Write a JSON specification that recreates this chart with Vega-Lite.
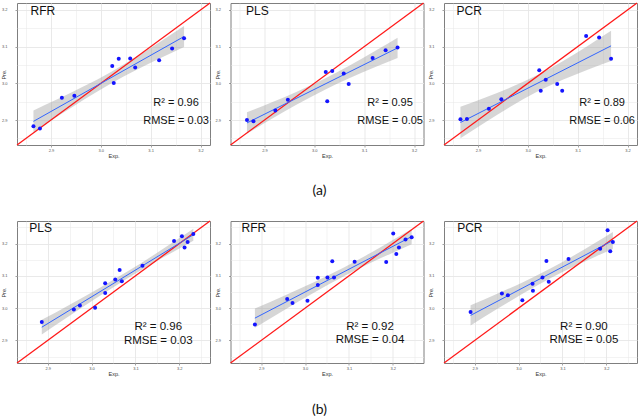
{
"$schema": "https://vega.github.io/schema/vega-lite/v6.json",
"background": "white",
"padding": {"left": 0, "top": 1, "right": 0, "bottom": 0},
"datasets": {"d": [
{"panel":"a1","kind":"pt","x":2.865,"y":2.883},{"panel":"a1","kind":"pt","x":2.878,"y":2.877},{"panel":"a1","kind":"pt","x":2.922,"y":2.961},{"panel":"a1","kind":"pt","x":2.947,"y":2.966},{"panel":"a1","kind":"pt","x":3.023,"y":3.047},{"panel":"a1","kind":"pt","x":3.026,"y":3.001},{"panel":"a1","kind":"pt","x":3.036,"y":3.067},{"panel":"a1","kind":"pt","x":3.059,"y":3.068},{"panel":"a1","kind":"pt","x":3.069,"y":3.043},{"panel":"a1","kind":"pt","x":3.117,"y":3.063},{"panel":"a1","kind":"pt","x":3.143,"y":3.095},{"panel":"a1","kind":"pt","x":3.167,"y":3.123},
{"panel":"a2","kind":"pt","x":2.865,"y":2.900},{"panel":"a2","kind":"pt","x":2.878,"y":2.897},{"panel":"a2","kind":"pt","x":2.922,"y":2.926},{"panel":"a2","kind":"pt","x":2.947,"y":2.955},{"panel":"a2","kind":"pt","x":3.023,"y":3.031},{"panel":"a2","kind":"pt","x":3.026,"y":2.951},{"panel":"a2","kind":"pt","x":3.036,"y":3.034},{"panel":"a2","kind":"pt","x":3.059,"y":3.027},{"panel":"a2","kind":"pt","x":3.069,"y":2.998},{"panel":"a2","kind":"pt","x":3.117,"y":3.069},{"panel":"a2","kind":"pt","x":3.143,"y":3.090},{"panel":"a2","kind":"pt","x":3.167,"y":3.098},
{"panel":"a3","kind":"pt","x":2.865,"y":2.902},{"panel":"a3","kind":"pt","x":2.878,"y":2.903},{"panel":"a3","kind":"pt","x":2.922,"y":2.931},{"panel":"a3","kind":"pt","x":2.947,"y":2.957},{"panel":"a3","kind":"pt","x":3.023,"y":3.036},{"panel":"a3","kind":"pt","x":3.026,"y":2.980},{"panel":"a3","kind":"pt","x":3.036,"y":3.010},{"panel":"a3","kind":"pt","x":3.059,"y":2.998},{"panel":"a3","kind":"pt","x":3.069,"y":2.980},{"panel":"a3","kind":"pt","x":3.117,"y":3.129},{"panel":"a3","kind":"pt","x":3.143,"y":3.125},{"panel":"a3","kind":"pt","x":3.167,"y":3.067},
{"panel":"b1","kind":"pt","x":2.8865,"y":2.957},{"panel":"b1","kind":"pt","x":2.9596,"y":2.996},{"panel":"b1","kind":"pt","x":2.9734,"y":3.008},{"panel":"b1","kind":"pt","x":3.008,"y":3.001},{"panel":"b1","kind":"pt","x":3.031,"y":3.077},{"panel":"b1","kind":"pt","x":3.031,"y":3.047},{"panel":"b1","kind":"pt","x":3.054,"y":3.089},{"panel":"b1","kind":"pt","x":3.064,"y":3.118},{"panel":"b1","kind":"pt","x":3.069,"y":3.083},{"panel":"b1","kind":"pt","x":3.116,"y":3.131},{"panel":"b1","kind":"pt","x":3.188,"y":3.208},{"panel":"b1","kind":"pt","x":3.206,"y":3.223},{"panel":"b1","kind":"pt","x":3.212,"y":3.188},{"panel":"b1","kind":"pt","x":3.219,"y":3.205},{"panel":"b1","kind":"pt","x":3.232,"y":3.230},
{"panel":"b2","kind":"pt","x":2.8856,"y":2.949},{"panel":"b2","kind":"pt","x":2.9592,"y":3.028},{"panel":"b2","kind":"pt","x":2.9714,"y":3.016},{"panel":"b2","kind":"pt","x":3.0055,"y":3.023},{"panel":"b2","kind":"pt","x":3.029,"y":3.094},{"panel":"b2","kind":"pt","x":3.029,"y":3.072},{"panel":"b2","kind":"pt","x":3.051,"y":3.095},{"panel":"b2","kind":"pt","x":3.062,"y":3.145},{"panel":"b2","kind":"pt","x":3.066,"y":3.095},{"panel":"b2","kind":"pt","x":3.113,"y":3.144},{"panel":"b2","kind":"pt","x":3.185,"y":3.143},{"panel":"b2","kind":"pt","x":3.201,"y":3.231},{"panel":"b2","kind":"pt","x":3.208,"y":3.168},{"panel":"b2","kind":"pt","x":3.214,"y":3.188},{"panel":"b2","kind":"pt","x":3.229,"y":3.213},{"panel":"b2","kind":"pt","x":3.243,"y":3.220},
{"panel":"b3","kind":"pt","x":2.8906,"y":2.988},{"panel":"b3","kind":"pt","x":2.962,"y":3.045},{"panel":"b3","kind":"pt","x":2.9756,"y":3.040},{"panel":"b3","kind":"pt","x":3.0086,"y":3.0245},{"panel":"b3","kind":"pt","x":3.0319,"y":3.0754},{"panel":"b3","kind":"pt","x":3.0327,"y":3.0536},{"panel":"b3","kind":"pt","x":3.0545,"y":3.0951},{"panel":"b3","kind":"pt","x":3.0635,"y":3.146},{"panel":"b3","kind":"pt","x":3.0688,"y":3.0816},{"panel":"b3","kind":"pt","x":3.1139,"y":3.152},{"panel":"b3","kind":"pt","x":3.186,"y":3.184},{"panel":"b3","kind":"pt","x":3.203,"y":3.2415},{"panel":"b3","kind":"pt","x":3.209,"y":3.176},{"panel":"b3","kind":"pt","x":3.215,"y":3.205},
{"panel":"a1","kind":"band","x":2.865,"y":2.8666,"y2":2.9263},{"panel":"a1","kind":"band","x":2.915,"y":2.9114,"y2":2.958},{"panel":"a1","kind":"band","x":2.965,"y":2.9549,"y2":2.9911},{"panel":"a1","kind":"band","x":3.0214,"y":3.0006,"y2":3.0318},{"panel":"a1","kind":"band","x":3.07,"y":3.0359,"y2":3.0709},{"panel":"a1","kind":"band","x":3.12,"y":3.0693,"y2":3.1141},{"panel":"a1","kind":"band","x":3.167,"y":3.0993,"y2":3.1561},
{"panel":"a2","kind":"band","x":2.865,"y":2.8631,"y2":2.9211},{"panel":"a2","kind":"band","x":2.915,"y":2.9033,"y2":2.9485},{"panel":"a2","kind":"band","x":2.965,"y":2.9422,"y2":2.9774},{"panel":"a2","kind":"band","x":3.0214,"y":2.9829,"y2":3.0131},{"panel":"a2","kind":"band","x":3.07,"y":3.0139,"y2":3.0479},{"panel":"a2","kind":"band","x":3.12,"y":3.0431,"y2":3.0865},{"panel":"a2","kind":"band","x":3.167,"y":3.069,"y2":3.1242},
{"panel":"a3","kind":"band","x":2.865,"y":2.8503,"y2":2.9365},{"panel":"a3","kind":"band","x":2.915,"y":2.8942,"y2":2.9616},{"panel":"a3","kind":"band","x":2.965,"y":2.9364,"y2":2.9886},{"panel":"a3","kind":"band","x":3.0214,"y":2.979,"y2":3.024},{"panel":"a3","kind":"band","x":3.07,"y":3.0099,"y2":3.0603},{"panel":"a3","kind":"band","x":3.12,"y":3.0374,"y2":3.102},{"panel":"a3","kind":"band","x":3.167,"y":3.0612,"y2":3.1432},
{"panel":"b1","kind":"band","x":2.8865,"y":2.9181,"y2":2.9637},{"panel":"b1","kind":"band","x":2.95,"y":2.9762,"y2":3.0108},{"panel":"b1","kind":"band","x":3.02,"y":3.0391,"y2":3.0641},{"panel":"b1","kind":"band","x":3.0833,"y":3.0934,"y2":3.1148},{"panel":"b1","kind":"band","x":3.14,"y":3.139,"y2":3.1633},{"panel":"b1","kind":"band","x":3.19,"y":3.1773,"y2":3.2079},{"panel":"b1","kind":"band","x":3.232,"y":3.2088,"y2":3.246},
{"panel":"b2","kind":"band","x":2.8856,"y":2.9395,"y2":2.9985},{"panel":"b2","kind":"band","x":2.95,"y":2.992,"y2":3.037},{"panel":"b2","kind":"band","x":3.02,"y":3.0476,"y2":3.0804},{"panel":"b2","kind":"band","x":3.0907,"y":3.1003,"y2":3.1277},{"panel":"b2","kind":"band","x":3.15,"y":3.1403,"y2":3.1715},{"panel":"b2","kind":"band","x":3.2,"y":3.1718,"y2":3.2108},{"panel":"b2","kind":"band","x":3.243,"y":3.198,"y2":3.2454},
{"panel":"b3","kind":"band","x":2.8906,"y":2.9462,"y2":3.0088},{"panel":"b3","kind":"band","x":2.95,"y":2.9962,"y2":3.0438},{"panel":"b3","kind":"band","x":3.01,"y":3.0454,"y2":3.0806},{"panel":"b3","kind":"band","x":3.0725,"y":3.0929,"y2":3.1225},{"panel":"b3","kind":"band","x":3.13,"y":3.1317,"y2":3.1661},{"panel":"b3","kind":"band","x":3.175,"y":3.1595,"y2":3.2025},{"panel":"b3","kind":"band","x":3.215,"y":3.1835,"y2":3.2359},
{"panel":"a1","kind":"fit","x":2.865,"y":2.8964},{"panel":"a1","kind":"fit","x":3.167,"y":3.1277},
{"panel":"a2","kind":"fit","x":2.865,"y":2.8921},{"panel":"a2","kind":"fit","x":3.167,"y":3.0966},
{"panel":"a3","kind":"fit","x":2.865,"y":2.8934},{"panel":"a3","kind":"fit","x":3.167,"y":3.1022},
{"panel":"b1","kind":"fit","x":2.8865,"y":2.9409},{"panel":"b1","kind":"fit","x":3.232,"y":3.2274},
{"panel":"b2","kind":"fit","x":2.8856,"y":2.969},{"panel":"b2","kind":"fit","x":3.243,"y":3.2217},
{"panel":"b3","kind":"fit","x":2.8906,"y":2.9775},{"panel":"b3","kind":"fit","x":3.215,"y":3.2097},
{"panel":"a1","kind":"diag","x":2.832,"y":2.832,"x2":3.219,"y2":3.219},
{"panel":"a2","kind":"diag","x":2.832,"y":2.832,"x2":3.219,"y2":3.219},
{"panel":"a3","kind":"diag","x":2.832,"y":2.832,"x2":3.219,"y2":3.219},
{"panel":"b1","kind":"diag","x":2.83,"y":2.83,"x2":3.27,"y2":3.27},
{"panel":"b2","kind":"diag","x":2.83,"y":2.83,"x2":3.27,"y2":3.27},
{"panel":"b3","kind":"diag","x":2.83,"y":2.83,"x2":3.27,"y2":3.27},
{"panel":"a1","kind":"lab","x":2.859,"y":3.197,"text":"RFR"},{"panel":"a1","kind":"stat","x":3.151,"y":2.947,"text":"R² = 0.96"},{"panel":"a1","kind":"stat","x":3.151,"y":2.898,"text":"RMSE = 0.03"},
{"panel":"a2","kind":"lab","x":2.863,"y":3.197,"text":"PLS"},{"panel":"a2","kind":"stat","x":3.152,"y":2.947,"text":"R² = 0.95"},{"panel":"a2","kind":"stat","x":3.152,"y":2.898,"text":"RMSE = 0.05"},
{"panel":"a3","kind":"lab","x":2.857,"y":3.197,"text":"PCR"},{"panel":"a3","kind":"stat","x":3.149,"y":2.947,"text":"R² = 0.89"},{"panel":"a3","kind":"stat","x":3.149,"y":2.898,"text":"RMSE = 0.06"},
{"panel":"b1","kind":"lab","x":2.858,"y":3.247,"text":"PLS"},{"panel":"b1","kind":"stat","x":3.152,"y":2.942,"text":"R² = 0.96"},{"panel":"b1","kind":"stat","x":3.152,"y":2.898,"text":"RMSE = 0.03"},
{"panel":"b2","kind":"lab","x":2.855,"y":3.247,"text":"RFR"},{"panel":"b2","kind":"stat","x":3.148,"y":2.942,"text":"R² = 0.92"},{"panel":"b2","kind":"stat","x":3.148,"y":2.9,"text":"RMSE = 0.04"},
{"panel":"b3","kind":"lab","x":2.86,"y":3.247,"text":"PCR"},{"panel":"b3","kind":"stat","x":3.149,"y":2.942,"text":"R² = 0.90"},{"panel":"b3","kind":"stat","x":3.149,"y":2.9,"text":"RMSE = 0.05"}
]},
"data": {"name": "d"},
"columns": 3,
"spacing": {"row": 76, "column": 20.5},
"bounds": "flush",
"concat": [
{"width":193,"height":142,
 "encoding":{
  "x":{"field":"x","type":"quantitative","scale":{"domain":[2.832,3.219],"nice":false,"zero":false},"axis":{"title":"Exp.","values":[2.85,2.9,2.95,3.0,3.05,3.1,3.15,3.2],"format":".1f","labelExpr":"abs(datum.value*10-round(datum.value*10))<0.01 ? datum.label : ''","tickOpacity":{"condition":{"test":"abs(datum.value*10-round(datum.value*10))>0.01","value":0},"value":1},"gridWidth":{"condition":{"test":"abs(datum.value*10-round(datum.value*10))>0.01","value":0.5},"value":0.9}}},
  "y":{"field":"y","type":"quantitative","scale":{"domain":[2.832,3.219],"nice":false,"zero":false},"axis":{"title":"Pre.","values":[2.85,2.9,2.95,3.0,3.05,3.1,3.15,3.2],"format":".1f","labelExpr":"abs(datum.value*10-round(datum.value*10))<0.01 ? datum.label : ''","tickOpacity":{"condition":{"test":"abs(datum.value*10-round(datum.value*10))>0.01","value":0},"value":1},"gridWidth":{"condition":{"test":"abs(datum.value*10-round(datum.value*10))>0.01","value":0.5},"value":0.9}}}},
 "layer":[
  {"transform":[{"filter":"datum.panel=='a1' && datum.kind=='band'"}],"mark":{"type":"area","color":"#999999","opacity":0.4,"interpolate":"monotone"},"encoding":{"y2":{"field":"y2"}}},
  {"transform":[{"filter":"datum.panel=='a1' && datum.kind=='diag'"}],"mark":{"type":"rule","color":"#ff1a1a","strokeWidth":1.3},"encoding":{"x2":{"field":"x2"},"y2":{"field":"y2"}}},
  {"transform":[{"filter":"datum.panel=='a1' && datum.kind=='fit'"}],"mark":{"type":"line","color":"#3366ff","strokeWidth":1},"encoding":{}},
  {"transform":[{"filter":"datum.panel=='a1' && datum.kind=='pt'"}],"mark":{"type":"circle","color":"#1414ff","size":16,"opacity":1},"encoding":{}},
  {"transform":[{"filter":"datum.panel=='a1' && datum.kind=='lab'"}],"mark":{"type":"text","align":"left","baseline":"middle","fontSize":12,"font":"Liberation Sans","color":"#111"},"encoding":{"text":{"field":"text"}}},
  {"transform":[{"filter":"datum.panel=='a1' && datum.kind=='stat'"}],"mark":{"type":"text","align":"center","baseline":"middle","fontSize":11,"font":"Liberation Sans","color":"#111"},"encoding":{"text":{"field":"text"}}}
 ]},
{"width":193,"height":142,
 "title":{"text":"(a)","orient":"bottom","anchor":"middle","frame":"bounds","fontSize":14,"font":"Lato","fontWeight":"normal","color":"#111","offset":25},
 "encoding":{
  "x":{"field":"x","type":"quantitative","scale":{"domain":[2.832,3.219],"nice":false,"zero":false},"axis":{"title":"Exp.","values":[2.85,2.9,2.95,3.0,3.05,3.1,3.15,3.2],"format":".1f","labelExpr":"abs(datum.value*10-round(datum.value*10))<0.01 ? datum.label : ''","tickOpacity":{"condition":{"test":"abs(datum.value*10-round(datum.value*10))>0.01","value":0},"value":1},"gridWidth":{"condition":{"test":"abs(datum.value*10-round(datum.value*10))>0.01","value":0.5},"value":0.9}}},
  "y":{"field":"y","type":"quantitative","scale":{"domain":[2.832,3.219],"nice":false,"zero":false},"axis":{"title":"Pre.","values":[2.85,2.9,2.95,3.0,3.05,3.1,3.15,3.2],"format":".1f","labelExpr":"abs(datum.value*10-round(datum.value*10))<0.01 ? datum.label : ''","tickOpacity":{"condition":{"test":"abs(datum.value*10-round(datum.value*10))>0.01","value":0},"value":1},"gridWidth":{"condition":{"test":"abs(datum.value*10-round(datum.value*10))>0.01","value":0.5},"value":0.9}}}},
 "layer":[
  {"transform":[{"filter":"datum.panel=='a2' && datum.kind=='band'"}],"mark":{"type":"area","color":"#999999","opacity":0.4,"interpolate":"monotone"},"encoding":{"y2":{"field":"y2"}}},
  {"transform":[{"filter":"datum.panel=='a2' && datum.kind=='diag'"}],"mark":{"type":"rule","color":"#ff1a1a","strokeWidth":1.3},"encoding":{"x2":{"field":"x2"},"y2":{"field":"y2"}}},
  {"transform":[{"filter":"datum.panel=='a2' && datum.kind=='fit'"}],"mark":{"type":"line","color":"#3366ff","strokeWidth":1},"encoding":{}},
  {"transform":[{"filter":"datum.panel=='a2' && datum.kind=='pt'"}],"mark":{"type":"circle","color":"#1414ff","size":16,"opacity":1},"encoding":{}},
  {"transform":[{"filter":"datum.panel=='a2' && datum.kind=='lab'"}],"mark":{"type":"text","align":"left","baseline":"middle","fontSize":12,"font":"Liberation Sans","color":"#111"},"encoding":{"text":{"field":"text"}}},
  {"transform":[{"filter":"datum.panel=='a2' && datum.kind=='stat'"}],"mark":{"type":"text","align":"center","baseline":"middle","fontSize":11,"font":"Liberation Sans","color":"#111"},"encoding":{"text":{"field":"text"}}}
 ]},
{"width":193,"height":142,
 "encoding":{
  "x":{"field":"x","type":"quantitative","scale":{"domain":[2.832,3.219],"nice":false,"zero":false},"axis":{"title":"Exp.","values":[2.85,2.9,2.95,3.0,3.05,3.1,3.15,3.2],"format":".1f","labelExpr":"abs(datum.value*10-round(datum.value*10))<0.01 ? datum.label : ''","tickOpacity":{"condition":{"test":"abs(datum.value*10-round(datum.value*10))>0.01","value":0},"value":1},"gridWidth":{"condition":{"test":"abs(datum.value*10-round(datum.value*10))>0.01","value":0.5},"value":0.9}}},
  "y":{"field":"y","type":"quantitative","scale":{"domain":[2.832,3.219],"nice":false,"zero":false},"axis":{"title":"Pre.","values":[2.85,2.9,2.95,3.0,3.05,3.1,3.15,3.2],"format":".1f","labelExpr":"abs(datum.value*10-round(datum.value*10))<0.01 ? datum.label : ''","tickOpacity":{"condition":{"test":"abs(datum.value*10-round(datum.value*10))>0.01","value":0},"value":1},"gridWidth":{"condition":{"test":"abs(datum.value*10-round(datum.value*10))>0.01","value":0.5},"value":0.9}}}},
 "layer":[
  {"transform":[{"filter":"datum.panel=='a3' && datum.kind=='band'"}],"mark":{"type":"area","color":"#999999","opacity":0.4,"interpolate":"monotone"},"encoding":{"y2":{"field":"y2"}}},
  {"transform":[{"filter":"datum.panel=='a3' && datum.kind=='diag'"}],"mark":{"type":"rule","color":"#ff1a1a","strokeWidth":1.3},"encoding":{"x2":{"field":"x2"},"y2":{"field":"y2"}}},
  {"transform":[{"filter":"datum.panel=='a3' && datum.kind=='fit'"}],"mark":{"type":"line","color":"#3366ff","strokeWidth":1},"encoding":{}},
  {"transform":[{"filter":"datum.panel=='a3' && datum.kind=='pt'"}],"mark":{"type":"circle","color":"#1414ff","size":16,"opacity":1},"encoding":{}},
  {"transform":[{"filter":"datum.panel=='a3' && datum.kind=='lab'"}],"mark":{"type":"text","align":"left","baseline":"middle","fontSize":12,"font":"Liberation Sans","color":"#111"},"encoding":{"text":{"field":"text"}}},
  {"transform":[{"filter":"datum.panel=='a3' && datum.kind=='stat'"}],"mark":{"type":"text","align":"center","baseline":"middle","fontSize":11,"font":"Liberation Sans","color":"#111"},"encoding":{"text":{"field":"text"}}}
 ]},
{"width":193,"height":142,
 "encoding":{
  "x":{"field":"x","type":"quantitative","scale":{"domain":[2.83,3.27],"nice":false,"zero":false},"axis":{"title":"Exp.","values":[2.85,2.9,2.95,3.0,3.05,3.1,3.15,3.2,3.25],"format":".1f","labelExpr":"abs(datum.value*10-round(datum.value*10))<0.01 ? datum.label : ''","tickOpacity":{"condition":{"test":"abs(datum.value*10-round(datum.value*10))>0.01","value":0},"value":1},"gridWidth":{"condition":{"test":"abs(datum.value*10-round(datum.value*10))>0.01","value":0.5},"value":0.9}}},
  "y":{"field":"y","type":"quantitative","scale":{"domain":[2.83,3.27],"nice":false,"zero":false},"axis":{"title":"Pre.","values":[2.85,2.9,2.95,3.0,3.05,3.1,3.15,3.2,3.25],"format":".1f","labelExpr":"abs(datum.value*10-round(datum.value*10))<0.01 ? datum.label : ''","tickOpacity":{"condition":{"test":"abs(datum.value*10-round(datum.value*10))>0.01","value":0},"value":1},"gridWidth":{"condition":{"test":"abs(datum.value*10-round(datum.value*10))>0.01","value":0.5},"value":0.9}}}},
 "layer":[
  {"transform":[{"filter":"datum.panel=='b1' && datum.kind=='band'"}],"mark":{"type":"area","color":"#999999","opacity":0.4,"interpolate":"monotone"},"encoding":{"y2":{"field":"y2"}}},
  {"transform":[{"filter":"datum.panel=='b1' && datum.kind=='diag'"}],"mark":{"type":"rule","color":"#ff1a1a","strokeWidth":1.3},"encoding":{"x2":{"field":"x2"},"y2":{"field":"y2"}}},
  {"transform":[{"filter":"datum.panel=='b1' && datum.kind=='fit'"}],"mark":{"type":"line","color":"#3366ff","strokeWidth":1},"encoding":{}},
  {"transform":[{"filter":"datum.panel=='b1' && datum.kind=='pt'"}],"mark":{"type":"circle","color":"#1414ff","size":16,"opacity":1},"encoding":{}},
  {"transform":[{"filter":"datum.panel=='b1' && datum.kind=='lab'"}],"mark":{"type":"text","align":"left","baseline":"middle","fontSize":12,"font":"Liberation Sans","color":"#111"},"encoding":{"text":{"field":"text"}}},
  {"transform":[{"filter":"datum.panel=='b1' && datum.kind=='stat'"}],"mark":{"type":"text","align":"center","baseline":"middle","fontSize":11.5,"font":"Liberation Sans","color":"#111"},"encoding":{"text":{"field":"text"}}}
 ]},
{"width":193,"height":142,
 "title":{"text":"(b)","orient":"bottom","anchor":"middle","frame":"bounds","fontSize":14,"font":"Lato","fontWeight":"normal","color":"#111","offset":26},
 "encoding":{
  "x":{"field":"x","type":"quantitative","scale":{"domain":[2.83,3.27],"nice":false,"zero":false},"axis":{"title":"Exp.","values":[2.85,2.9,2.95,3.0,3.05,3.1,3.15,3.2,3.25],"format":".1f","labelExpr":"abs(datum.value*10-round(datum.value*10))<0.01 ? datum.label : ''","tickOpacity":{"condition":{"test":"abs(datum.value*10-round(datum.value*10))>0.01","value":0},"value":1},"gridWidth":{"condition":{"test":"abs(datum.value*10-round(datum.value*10))>0.01","value":0.5},"value":0.9}}},
  "y":{"field":"y","type":"quantitative","scale":{"domain":[2.83,3.27],"nice":false,"zero":false},"axis":{"title":"Pre.","values":[2.85,2.9,2.95,3.0,3.05,3.1,3.15,3.2,3.25],"format":".1f","labelExpr":"abs(datum.value*10-round(datum.value*10))<0.01 ? datum.label : ''","tickOpacity":{"condition":{"test":"abs(datum.value*10-round(datum.value*10))>0.01","value":0},"value":1},"gridWidth":{"condition":{"test":"abs(datum.value*10-round(datum.value*10))>0.01","value":0.5},"value":0.9}}}},
 "layer":[
  {"transform":[{"filter":"datum.panel=='b2' && datum.kind=='band'"}],"mark":{"type":"area","color":"#999999","opacity":0.4,"interpolate":"monotone"},"encoding":{"y2":{"field":"y2"}}},
  {"transform":[{"filter":"datum.panel=='b2' && datum.kind=='diag'"}],"mark":{"type":"rule","color":"#ff1a1a","strokeWidth":1.3},"encoding":{"x2":{"field":"x2"},"y2":{"field":"y2"}}},
  {"transform":[{"filter":"datum.panel=='b2' && datum.kind=='fit'"}],"mark":{"type":"line","color":"#3366ff","strokeWidth":1},"encoding":{}},
  {"transform":[{"filter":"datum.panel=='b2' && datum.kind=='pt'"}],"mark":{"type":"circle","color":"#1414ff","size":16,"opacity":1},"encoding":{}},
  {"transform":[{"filter":"datum.panel=='b2' && datum.kind=='lab'"}],"mark":{"type":"text","align":"left","baseline":"middle","fontSize":12,"font":"Liberation Sans","color":"#111"},"encoding":{"text":{"field":"text"}}},
  {"transform":[{"filter":"datum.panel=='b2' && datum.kind=='stat'"}],"mark":{"type":"text","align":"center","baseline":"middle","fontSize":11.5,"font":"Liberation Sans","color":"#111"},"encoding":{"text":{"field":"text"}}}
 ]},
{"width":193,"height":142,
 "encoding":{
  "x":{"field":"x","type":"quantitative","scale":{"domain":[2.83,3.27],"nice":false,"zero":false},"axis":{"title":"Exp.","values":[2.85,2.9,2.95,3.0,3.05,3.1,3.15,3.2,3.25],"format":".1f","labelExpr":"abs(datum.value*10-round(datum.value*10))<0.01 ? datum.label : ''","tickOpacity":{"condition":{"test":"abs(datum.value*10-round(datum.value*10))>0.01","value":0},"value":1},"gridWidth":{"condition":{"test":"abs(datum.value*10-round(datum.value*10))>0.01","value":0.5},"value":0.9}}},
  "y":{"field":"y","type":"quantitative","scale":{"domain":[2.83,3.27],"nice":false,"zero":false},"axis":{"title":"Pre.","values":[2.85,2.9,2.95,3.0,3.05,3.1,3.15,3.2,3.25],"format":".1f","labelExpr":"abs(datum.value*10-round(datum.value*10))<0.01 ? datum.label : ''","tickOpacity":{"condition":{"test":"abs(datum.value*10-round(datum.value*10))>0.01","value":0},"value":1},"gridWidth":{"condition":{"test":"abs(datum.value*10-round(datum.value*10))>0.01","value":0.5},"value":0.9}}}},
 "layer":[
  {"transform":[{"filter":"datum.panel=='b3' && datum.kind=='band'"}],"mark":{"type":"area","color":"#999999","opacity":0.4,"interpolate":"monotone"},"encoding":{"y2":{"field":"y2"}}},
  {"transform":[{"filter":"datum.panel=='b3' && datum.kind=='diag'"}],"mark":{"type":"rule","color":"#ff1a1a","strokeWidth":1.3},"encoding":{"x2":{"field":"x2"},"y2":{"field":"y2"}}},
  {"transform":[{"filter":"datum.panel=='b3' && datum.kind=='fit'"}],"mark":{"type":"line","color":"#3366ff","strokeWidth":1},"encoding":{}},
  {"transform":[{"filter":"datum.panel=='b3' && datum.kind=='pt'"}],"mark":{"type":"circle","color":"#1414ff","size":16,"opacity":1},"encoding":{}},
  {"transform":[{"filter":"datum.panel=='b3' && datum.kind=='lab'"}],"mark":{"type":"text","align":"left","baseline":"middle","fontSize":12,"font":"Liberation Sans","color":"#111"},"encoding":{"text":{"field":"text"}}},
  {"transform":[{"filter":"datum.panel=='b3' && datum.kind=='stat'"}],"mark":{"type":"text","align":"center","baseline":"middle","fontSize":11.5,"font":"Liberation Sans","color":"#111"},"encoding":{"text":{"field":"text"}}}
 ]}
],
"config": {
 "font": "Liberation Sans",
 "view": {"stroke": "#7f7f7f", "strokeWidth": 1},
 "axis": {"domain": false, "labelFontSize": 4, "labelColor": "#555555", "tickColor": "#666666", "tickSize": 2, "tickWidth": 0.6, "labelPadding": 1, "titleFontSize": 5.5, "titleFontWeight": "normal", "titleColor": "#333333", "titlePadding": 1, "gridColor": "#e6e6e6", "labelFont": "Liberation Sans", "titleFont": "Liberation Sans", "labelFlush": false, "labelOverlap": false},
 "axisY": {"labelPadding": 8, "titleX": -13.5, "titleBaseline": "middle"}
}
}
